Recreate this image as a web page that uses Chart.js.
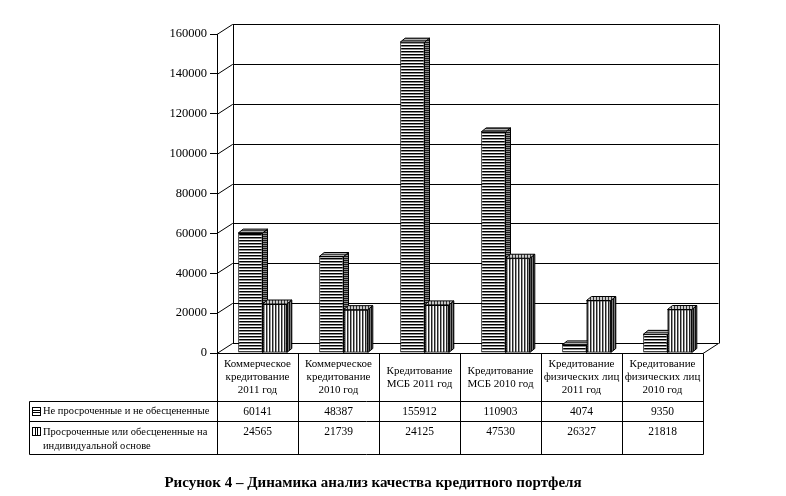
<!DOCTYPE html>
<html>
<head>
<meta charset="utf-8">
<script src="https://cdn.jsdelivr.net/npm/chart.js@4/dist/chart.umd.min.js"></script>
<style>
  html, body { margin: 0; padding: 0; background: #fff; }
  canvas { display: block; }
</style>
</head>
<body>
<canvas id="chart" width="786" height="496"></canvas>
<script>
// data
const categories = [
  ['Коммерческое', 'кредитование', '2011 год'],
  ['Коммерческое', 'кредитование', '2010 год'],
  ['Кредитование', 'МСБ 2011 год'],
  ['Кредитование', 'МСБ 2010 год'],
  ['Кредитование', 'физических лиц', '2011 год'],
  ['Кредитование', 'физических лиц', '2010 год']
];
const notOverdue = [60141, 48387, 155912, 110903, 4074, 9350];
const overdue = [24565, 21739, 24125, 47530, 26327, 21818];
const seriesLabels = [
  ['Не просроченные и не обесцененные'],
  ['Просроченные или обесцененные на', 'индивидуальной основе']
];
const yMin = 0, yMax = 160000, yStep = 20000;
const caption = 'Рисунок 4 – Динамика анализ качества кредитного портфеля';

const FONT = '"Liberation Serif", "Times New Roman", serif';
const DEPTH_X = 15.5, DEPTH_Y = 10;   // back wall offset
const BAR_DX = 5, BAR_DY = 4;          // bar depth
const SHIFT = 5;                       // bars sit a bit right of band centre

const canvas = document.getElementById('chart');

// stripe patterns, one colour per row (or column)
function makePattern(colors, horizontal) {
  const c = document.createElement('canvas');
  c.width = horizontal ? 4 : colors.length;
  c.height = horizontal ? colors.length : 4;
  const g = c.getContext('2d');
  colors.forEach((col, i) => {
    g.fillStyle = col;
    if (horizontal) g.fillRect(0, i, 4, 1); else g.fillRect(i, 0, 1, 4);
  });
  return canvas.getContext('2d').createPattern(c, 'repeat');
}
const hFront = makePattern(['#000', '#888', '#fff'], true);
const hSide = makePattern(['#1a1a1a', '#8a8a8a'], true);
const hTop = makePattern(['#444', '#b0b0b0'], true);
const vFront = makePattern(['#222', '#999', '#fff'], false);
const vSide = makePattern(['#111', '#777'], false);
const vTop = makePattern(['#333', '#c8c8c8', '#c8c8c8'], false);

const faces = [
  { side: hSide, top: hTop },
  { side: vSide, top: vTop }
];

function line(ctx, pts) {
  ctx.beginPath();
  ctx.moveTo(pts[0][0], pts[0][1]);
  for (let i = 1; i < pts.length; i++) ctx.lineTo(pts[i][0], pts[i][1]);
  ctx.stroke();
}

function drawFaces(ctx, meta) {
  const f = faces[meta.index];
  ctx.save();
  ctx.strokeStyle = '#000';
  ctx.lineWidth = 1;
  meta.data.forEach(bar => {
    const p = bar.getProps(['x', 'y', 'base', 'width'], true);
    const l = p.x - p.width / 2, r = p.x + p.width / 2;
    const top = p.y, base = p.base;
    // side
    ctx.beginPath();
    ctx.moveTo(r, top); ctx.lineTo(r + BAR_DX, top - BAR_DY);
    ctx.lineTo(r + BAR_DX, base - BAR_DY); ctx.lineTo(r, base); ctx.closePath();
    ctx.fillStyle = f.side; ctx.fill(); ctx.stroke();
    // top
    ctx.beginPath();
    ctx.moveTo(l, top); ctx.lineTo(l + BAR_DX, top - BAR_DY);
    ctx.lineTo(r + BAR_DX, top - BAR_DY); ctx.lineTo(r, top); ctx.closePath();
    ctx.fillStyle = f.top; ctx.fill(); ctx.stroke();
  });
  ctx.restore();
}

const wallPlugin = {
  id: 'wall3d',
  beforeDatasetsDraw(chart) {
    const { ctx, chartArea: a, scales: { y } } = chart;
    ctx.save();
    ctx.strokeStyle = '#000';
    ctx.lineWidth = 1;
    for (let v = yMin; v <= yMax; v += yStep) {
      const py = Math.round(y.getPixelForValue(v)) + 0.5;
      line(ctx, [[a.left, py], [a.left + DEPTH_X, py - DEPTH_Y], [a.right + DEPTH_X, py - DEPTH_Y]]);
    }
    const t = Math.round(y.getPixelForValue(yMax)) + 0.5 - DEPTH_Y;
    const b = Math.round(y.getPixelForValue(yMin)) + 0.5 - DEPTH_Y;
    line(ctx, [[Math.round(a.left + DEPTH_X) + 0.5, t], [Math.round(a.left + DEPTH_X) + 0.5, b]]);
    line(ctx, [[Math.round(a.right + DEPTH_X) + 0.5, t], [Math.round(a.right + DEPTH_X) + 0.5, b]]);
    const fy = Math.round(a.bottom) + 0.5;
    line(ctx, [[a.left, fy], [a.right, fy], [a.right + DEPTH_X, fy - DEPTH_Y]]);
    ctx.restore();
    ctx.save();
    ctx.translate(SHIFT, 0);
  },
  afterDatasetsDraw(chart) {
    // left bars are drawn last by Chart.js, so put the right ones back on top
    const ctx = chart.ctx;
    const m0 = chart.getDatasetMeta(0), m1 = chart.getDatasetMeta(1);
    drawFaces(ctx, m0);
    m1.data.forEach(bar => bar.draw(ctx));
    drawFaces(ctx, m1);
    ctx.restore();
  }
};

function drawIcon(ctx, x, y, kind) {
  ctx.strokeRect(x + 0.5, y + 0.5, 8, 8);
  if (kind === 0) {
    line(ctx, [[x, y + 3.5], [x + 9, y + 3.5]]);
    line(ctx, [[x, y + 5.5], [x + 9, y + 5.5]]);
  } else {
    line(ctx, [[x + 3.5, y], [x + 3.5, y + 9]]);
    line(ctx, [[x + 5.5, y], [x + 5.5, y + 9]]);
  }
}

const tablePlugin = {
  id: 'dataTable',
  afterDraw(chart) {
    const { ctx, chartArea: a, scales: { x } } = chart;
    const n = categories.length;
    const band = (a.right - a.left) / n;
    const top = Math.round(a.bottom) + 0.5;
    const r1 = 401.5, r2 = 421.5, bottom = 454.5, tableLeft = 29.5;
    ctx.save();
    ctx.strokeStyle = '#000';
    ctx.lineWidth = 1;
    // grid
    for (let i = 0; i <= n; i++) {
      const cx = Math.round(x.getPixelForValue(0) - band / 2 + i * band) + 0.5;
      line(ctx, [[cx, top], [cx, bottom]]);
    }
    [r1, r2, bottom].forEach(ry => line(ctx, [[tableLeft, ry], [Math.round(a.right) + 0.5, ry]]));
    line(ctx, [[tableLeft, r1], [tableLeft, bottom]]);

    ctx.fillStyle = '#000';
    ctx.textAlign = 'center';
    ctx.textBaseline = 'middle';
    // header
    ctx.font = '11px ' + FONT;
    categories.forEach((lines, i) => {
      const cx = x.getPixelForValue(i);
      const mid = (top + r1) / 2;
      lines.forEach((s, k) => {
        ctx.fillText(s, cx, mid + (k - (lines.length - 1) / 2) * 13);
      });
    });
    // values
    ctx.font = '11.5px ' + FONT;
    [notOverdue, overdue].forEach((arr, j) => {
      const ry = j === 0 ? (r1 + r2) / 2 : r2 + 10.5;
      arr.forEach((v, i) => ctx.fillText(String(v), x.getPixelForValue(i), ry));
    });
    // row labels
    ctx.textAlign = 'left';
    ctx.font = '10.5px ' + FONT;
    seriesLabels.forEach((lines, j) => {
      const ry = j === 0 ? (r1 + r2) / 2 : r2 + 10.5;
      drawIcon(ctx, 32, Math.round(ry) - 5, j);
      lines.forEach((s, k) => ctx.fillText(s, 43, ry + k * 14.5));
    });
    // caption
    ctx.textAlign = 'center';
    ctx.font = 'bold 15px ' + FONT;
    ctx.fillText(caption, 373, 483);
    ctx.restore();
  }
};

new Chart(canvas, {
  type: 'bar',
  data: {
    labels: categories,
    datasets: [
      {
        label: seriesLabels[0].join(' '),
        data: notOverdue,
        backgroundColor: hFront,
        borderColor: '#000',
        borderWidth: 1,
        borderSkipped: false,
        barPercentage: 1,
        categoryPercentage: 0.6
      },
      {
        label: seriesLabels[1].join(' '),
        data: overdue,
        backgroundColor: vFront,
        borderColor: '#000',
        borderWidth: 1,
        borderSkipped: false,
        barPercentage: 1,
        categoryPercentage: 0.6
      }
    ]
  },
  options: {
    responsive: false,
    animation: false,
    devicePixelRatio: 1,
    layout: { padding: { left: 0, right: 83, top: 34, bottom: 143 } },
    plugins: { legend: { display: false }, tooltip: { enabled: false } },
    scales: {
      x: { display: false },
      y: {
        min: yMin,
        max: yMax,
        afterFit(scale) { scale.width = 217; },
        ticks: {
          stepSize: yStep, color: '#000', padding: 3,
          font: { family: FONT, size: 12.5 },
          callback: v => String(v)
        },
        grid: { drawOnChartArea: false, drawTicks: true, tickLength: 7, color: '#000' },
        border: { display: true, color: '#000' }
      }
    }
  },
  plugins: [wallPlugin, tablePlugin]
});
</script>
</body>
</html>
